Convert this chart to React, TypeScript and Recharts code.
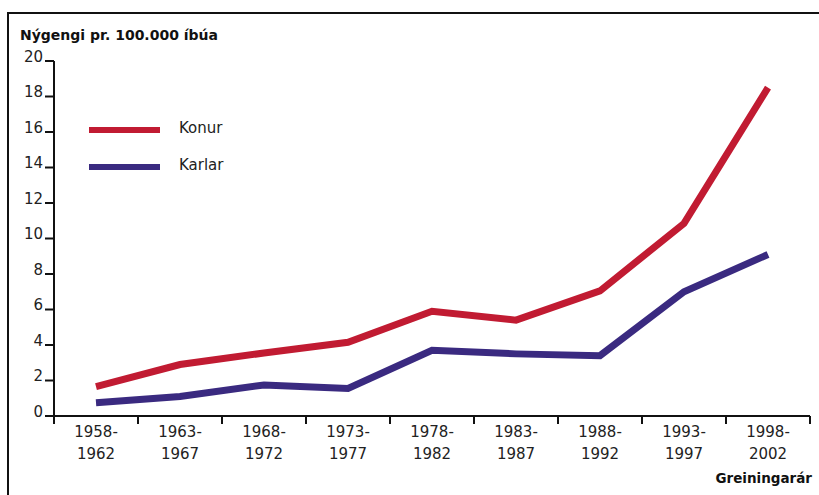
import React from "react";
import { LineChart, Line, XAxis, YAxis } from "recharts";

const periods = ["1958-1962", "1963-1967", "1968-1972", "1973-1977", "1978-1982", "1983-1987", "1988-1992", "1993-1997", "1998-2002"];
const konur = [1.65, 2.9, 3.55, 4.15, 5.9, 5.4, 7.05, 10.85, 18.5];
const karlar = [0.75, 1.1, 1.75, 1.55, 3.7, 3.5, 3.4, 7.0, 9.1];
const yTicks = [0, 2, 4, 6, 8, 10, 12, 14, 16, 18, 20];
const xBoundaries = [0, 1, 2, 3, 4, 5, 6, 7, 8, 9];
const titleText = "Nýgengi pr. 100.000 íbúa";
const xTitle = "Greiningarár";
const series = [
  { key: "konur", name: "Konur", color: "#C11B32" },
  { key: "karlar", name: "Karlar", color: "#3A2A80" },
];

const data = periods.map((p, i) => ({ x: i + 0.5, period: p, konur: konur[i], karlar: karlar[i] }));

const W = 819;
const H = 495;
const margin = { top: 61, right: 9, bottom: 19, left: 4 };
const yAxisWidth = 50;
const plotLeft = margin.left + yAxisWidth;
const plotRight = W - margin.right;
const bandWidth = (plotRight - plotLeft) / periods.length;
const FONT = "'DejaVu Sans', sans-serif";

const XTick = (props: any) => {
  const { x, y, payload } = props;
  const idx = payload.value;
  if (idx >= periods.length) return null;
  const [a, b] = periods[idx].split("-");
  const cx = x + bandWidth / 2;
  return (
    <g>
      <text x={cx} y={y + 13} textAnchor="middle" fontFamily={FONT} fontSize={15} fill="#222">{a + "-"}</text>
      <text x={cx} y={y + 34.6} textAnchor="middle" fontFamily={FONT} fontSize={15} fill="#222">{b}</text>
    </g>
  );
};

const YTick = (props: any) => {
  const { x, y, payload } = props;
  return (
    <text x={x} y={y + 0.5} textAnchor="end" fontFamily={FONT} fontSize={15} fill="#222">{payload.value}</text>
  );
};

export default function App() {
  return (
    <div style={{ position: "absolute", left: 0, top: 0, width: W, height: H, background: "#fff", overflow: "hidden" }}>
      <div style={{ position: "absolute", left: 7, top: 12, width: 900, height: 600, borderTop: "2px solid #111", borderLeft: "2px solid #111" }} />
      <div style={{ position: "absolute", left: 20, top: 27.5, fontFamily: FONT, fontWeight: "bold", fontSize: 14, lineHeight: "14px", color: "#111", whiteSpace: "nowrap" }}>{titleText}</div>
      <div style={{ position: "absolute", right: 7, top: 472, fontFamily: FONT, fontWeight: "bold", fontSize: 13.5, lineHeight: "13.5px", color: "#111", whiteSpace: "nowrap" }}>{xTitle}</div>
      {series.map((s, i) => (
        <div key={s.key}>
          <div style={{ position: "absolute", left: 89, top: 127 + i * 37, width: 71, height: 6, background: s.color }} />
          <div style={{ position: "absolute", left: 179, top: 120.6 + i * 37, fontFamily: FONT, fontSize: 15, lineHeight: "15px", color: "#222", whiteSpace: "nowrap" }}>{s.name}</div>
        </div>
      ))}
      <div style={{ position: "absolute", left: 0, top: 0 }}>
        <LineChart width={W} height={H} data={data} margin={margin}>
          <XAxis
            dataKey="x"
            type="number"
            domain={[0, 9]}
            ticks={xBoundaries}
            interval={0}
            height={60}
            tickSize={8}
            tickMargin={0}
            axisLine={{ stroke: "#111", strokeWidth: 2 }}
            tickLine={{ stroke: "#111", strokeWidth: 2 }}
            tick={<XTick />}
          />
          <YAxis
            type="number"
            domain={[0, 20]}
            ticks={yTicks}
            interval={0}
            width={yAxisWidth}
            tickSize={9}
            tickMargin={2}
            axisLine={{ stroke: "#111", strokeWidth: 2 }}
            tickLine={{ stroke: "#111", strokeWidth: 2 }}
            tick={<YTick />}
          />
          {series.map((s) => (
            <Line key={s.key} type="linear" dataKey={s.key} name={s.name} stroke={s.color} strokeWidth={7} dot={false} activeDot={false} isAnimationActive={false} />
          ))}
        </LineChart>
      </div>
    </div>
  );
}
